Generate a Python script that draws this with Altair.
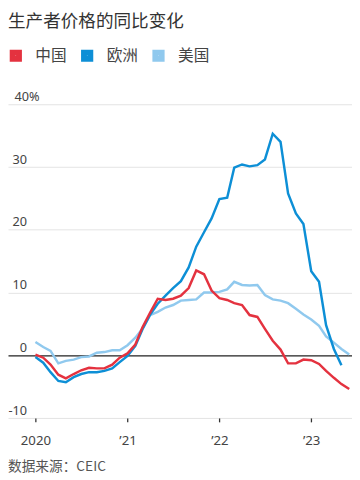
import altair as alt
import pandas as pd

# ---- data ----
months = pd.date_range("2020-01-01", "2023-06-01", freq="MS").strftime("%Y-%m-%d").tolist()

china = [0.1, -0.4, -1.5, -3.1, -3.7, -3.0, -2.4, -2.0, -2.1, -2.1, -1.5, -0.4,
         0.3, 1.7, 4.4, 6.8, 9.0, 8.8, 9.0, 9.5, 10.7, 13.5, 12.9, 10.3,
         9.1, 8.8, 8.3, 8.0, 6.4, 6.1, 4.2, 2.3, 0.9, -1.3, -1.3, -0.7,
         -0.8, -1.4, -2.5, -3.6, -4.6, -5.4]
europe = [-0.3, -1.2, -2.7, -4.1, -4.3, -3.5, -3.0, -2.7, -2.7, -2.5, -2.1, -1.1,
          -0.1, 1.5, 4.1, 6.5, 8.2, 9.5, 10.7, 11.8, 14.0, 17.3, 19.6, 21.8,
          24.9, 25.1, 29.9, 30.4, 30.1, 30.3, 31.2, 35.3, 34.0, 25.8, 22.6, 20.9,
          13.4, 11.7, 4.8, 1.0, -1.6]
usa = [2.1, 1.3, 0.7, -1.3, -0.9, -0.7, -0.3, -0.2, 0.4, 0.5, 0.8, 0.8,
       1.6, 2.8, 4.2, 6.4, 6.9, 7.6, 8.0, 8.7, 8.8, 8.9, 10.0, 10.0,
       10.1, 10.5, 11.7, 11.2, 11.1, 11.2, 9.6, 8.9, 8.7, 8.3, 7.4, 6.5,
       5.7, 4.7, 3.0, 2.0, 1.0, 0.1]

series_names = ["中国", "欧洲", "美国"]
series_colors = ["#e4323f", "#0d8fd6", "#90c9ee"]

y_ticks = [-10, 0, 10, 20, 30, 40]
y_tick_labels = ["-10", "0", "10", "20", "30", "40%"]
x_tick_years = [2020, 2021, 2022, 2023]
x_tick_labels = ["2020", "’21", "’22", "’23"]

title_text = "生产者价格的同比变化"
source_text = "数据来源：CEIC"

# ---- table ----
rows = []
for name, vals in [("美国", usa), ("欧洲", europe), ("中国", china)]:
    for d, v in zip(months, vals):
        rows.append({"date": d, "value": v, "series": name})
df = pd.DataFrame(rows)

W, H = 352, 321
FONT = "Noto Sans CJK SC"
LATIN = "Noto Sans"

y_label_expr = " : ".join(
    [f"datum.value == {v} ? '{l}'" for v, l in zip(y_ticks, y_tick_labels)]
) + " : ''"
x_label_expr = " : ".join(
    [f"utcFormat(datum.value, '%Y') == '{y}' ? '{l}'" for y, l in zip(x_tick_years, x_tick_labels)]
) + " : ''"

lines = alt.Chart(df).mark_line(strokeWidth=2.5).encode(
    x=alt.X(
        "date:T",
        title=None,
        scale=alt.Scale(
            type="utc",
            domain=[alt.DateTime(year=2019, month=9, date=14, utc=True),
                    alt.DateTime(year=2023, month=6, date=12, utc=True)],
        ),
        axis=alt.Axis(
            values=[alt.DateTime(year=y, month=1, date=1, utc=True) for y in x_tick_years],
            labelExpr=x_label_expr,
            grid=False,
            domain=False,
            ticks=True,
            tickSize=4,
            tickColor="#333333",
            tickWidth=1.3,
            labelPadding=12,
            labelFontSize=13.5,
            labelColor="#444444",
            labelFont=LATIN,
        ),
    ),
    y=alt.Y(
        "value:Q",
        title=None,
        scale=alt.Scale(domain=[-10, 40], nice=False, zero=False),
        axis=alt.Axis(
            values=y_ticks,
            labelExpr=y_label_expr,
            grid=True,
            gridColor={"condition": {"test": "datum.value == 0", "value": "#222222"}, "value": "#e3e3e3"},
            gridWidth={"condition": {"test": "datum.value == 0", "value": 1.3}, "value": 1},
            domain=False,
            ticks=False,
            labelAlign={"condition": {"test": "datum.value == 40", "value": "center"}, "value": "right"},
            labelBaseline="alphabetic",
            labelPadding=-19,
            labelOffset=-4,
            labelFontSize=13,
            labelColor="#444444",
            labelFont=LATIN,
        ),
    ),
    color=alt.Color(
        "series:N",
        scale=alt.Scale(domain=series_names, range=series_colors),
        legend=alt.Legend(
            orient="none",
            legendX=0,
            legendY=-58,
            direction="horizontal",
            title=None,
            symbolType="square",
            symbolSize=42,
            symbolStrokeWidth=6,
            labelFontSize=16,
            labelFont=FONT,
            labelColor="#444444",
            labelOffset=12,
            columnPadding=4,
        ),
    ),
)

title = alt.Chart(pd.DataFrame({"t": [title_text]})).mark_text(
    align="left", baseline="top", fontSize=18, font=FONT, color="#333333"
).encode(x=alt.value(0), y=alt.value(-93), text="t:N")

source = alt.Chart(pd.DataFrame({"t": [source_text]})).mark_text(
    align="left", baseline="alphabetic", fontSize=14, font=FONT, color="#555555"
).encode(x=alt.value(0), y=alt.value(H + 54), text="t:N")

chart = alt.layer(lines, title, source).properties(
    width=W,
    height=H,
    padding={"left": 0, "top": 93, "right": 0, "bottom": 58},
    autosize=alt.AutoSizeParams(type="none"),
).configure_view(stroke=None)

chart.save("out.html", embed_options={"renderer": "svg", "actions": False})
